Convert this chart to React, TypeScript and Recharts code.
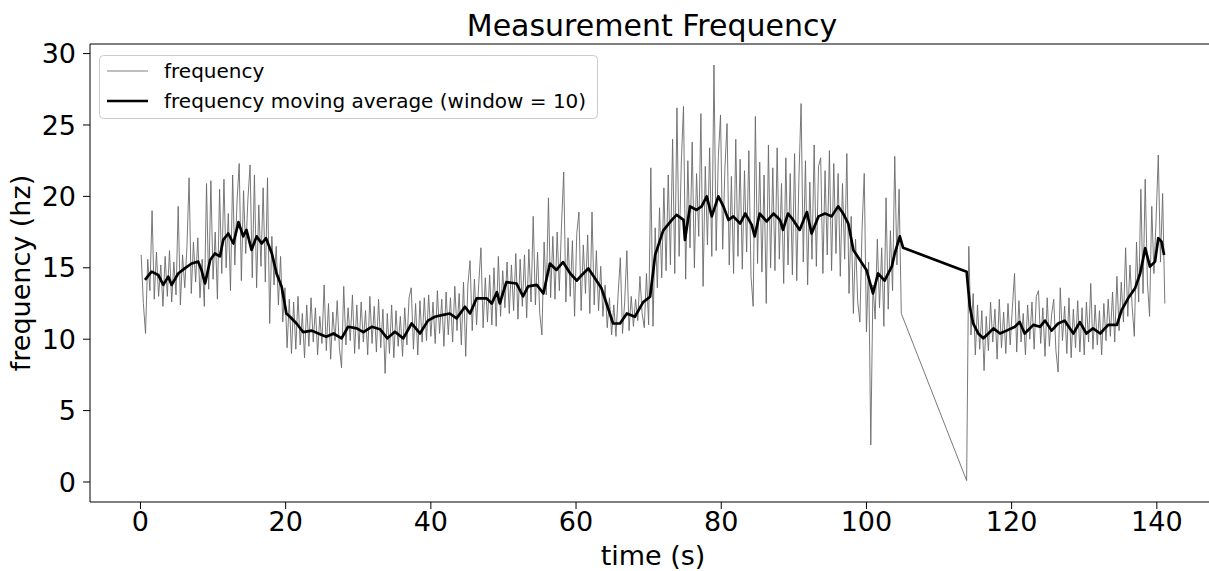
import { LineChart, Line, XAxis, YAxis, ReferenceLine } from 'recharts';

// raw samples: two recording segments with a fixed sample period
const sampleStep = 0.3;
const segAStart = 0.1;
const segBStart = 113.8;

const segAValues = [
  15.9, 12.5, 10.4, 15.6, 13.4, 19.0, 12.8, 16.1, 13.0, 15.2,
  12.3, 15.8, 13.0, 16.2, 12.6, 15.4, 13.1, 19.3, 12.4, 15.9,
  13.6, 16.4, 21.3, 13.2, 16.8, 14.0, 17.1, 12.9, 15.6, 12.3,
  20.9, 13.5, 21.1, 14.2, 17.5, 12.8, 20.5, 14.6, 21.2, 15.0,
  18.8, 13.4, 21.5, 15.2, 19.6, 22.3, 14.1, 20.4, 16.0, 19.8,
  22.2, 14.3, 21.5, 13.6, 19.4, 15.1, 20.6, 14.0, 21.3, 11.1,
  17.2, 13.8, 16.5, 12.4, 15.8, 11.2, 13.6, 9.4, 12.8, 9.0,
  12.6, 9.3, 13.0, 9.6, 11.8, 8.7, 12.4, 9.5, 12.9, 9.8,
  12.2, 8.9, 11.6, 9.7, 13.8, 9.2, 12.5, 8.6, 11.9, 9.9,
  12.7, 9.4, 8.0, 13.7, 9.6, 12.2, 9.9, 13.1, 9.0, 12.4,
  9.3, 12.6, 9.8, 12.0, 8.9, 13.0, 9.7, 12.3, 9.1, 12.8,
  9.4, 12.1, 7.6, 11.8, 9.0, 12.4, 8.7, 12.0, 9.5, 11.6,
  8.8, 12.2, 9.6, 12.9, 13.6, 9.3, 12.5, 8.9, 12.7, 9.8,
  12.9, 9.9, 13.1, 10.2, 12.6, 9.7, 13.4, 10.4, 12.8, 9.5,
  13.3, 10.3, 12.9, 9.8, 13.7, 10.6, 13.2, 9.6, 14.0, 8.8,
  13.8, 15.5, 10.6, 14.2, 11.0, 13.9, 16.4, 10.8, 14.3, 11.2,
  14.5, 11.0, 15.0, 10.9, 15.8, 11.6, 14.8, 12.2, 15.4, 11.8,
  15.2, 12.0, 16.0, 11.4, 15.6, 12.3, 15.9, 11.5, 16.3, 12.6,
  18.6, 12.4, 16.1, 11.8, 10.3, 16.8, 13.1, 19.9, 12.9, 17.2,
  12.8, 17.5, 13.4, 18.0, 21.7, 12.6, 17.1, 13.0, 16.9, 11.6,
  17.4, 18.9, 12.0, 16.6, 13.2, 17.3, 11.8, 18.9, 12.4, 16.2,
  12.0, 15.1, 11.6, 13.8, 10.8, 12.9, 10.3, 12.4, 10.2, 13.2,
  15.7, 10.4, 12.6, 16.2, 10.6, 13.0, 10.9, 12.8, 11.3, 14.4,
  11.8, 10.8, 14.6, 11.0, 22.0, 10.9, 17.8, 13.6, 19.2, 14.3,
  20.6, 14.8, 21.5, 15.2, 24.0, 14.6, 26.2, 15.8, 22.4, 26.3,
  14.2, 22.5, 16.4, 23.8, 15.0, 21.6, 17.2, 25.8, 13.7, 22.1,
  16.6, 23.4, 15.8, 29.2, 16.2, 22.8, 25.7, 16.3, 21.9, 25.1,
  15.2, 21.4, 14.6, 24.0, 15.8, 22.6, 14.9, 21.8, 16.1, 23.2,
  14.4, 12.3, 25.6, 15.3, 22.4, 14.7, 21.5, 12.5, 23.6, 15.0,
  22.0, 14.8, 23.4, 15.6, 20.9, 13.9, 22.7, 15.2, 21.6, 14.5,
  23.0, 14.1, 21.3, 26.5, 15.4, 22.5, 13.8, 21.0, 15.6, 23.6,
  15.1, 22.1, 22.7, 14.6, 21.8, 15.9, 23.2, 14.8, 22.3, 16.0,
  21.6, 14.4, 20.9, 15.6, 23.0, 13.2, 18.6, 11.8, 17.0, 12.6,
  11.2, 17.8, 21.6, 10.5, 15.4, 2.6, 13.8, 11.4, 17.0, 12.2,
  16.4, 10.9, 19.9, 12.1, 17.6, 13.4, 22.8, 15.2, 20.5, 11.8,
];

const segBValues = [
  0.1, 16.5, 10.3, 13.2, 8.9, 12.4, 9.3, 12.0, 7.8, 11.6,
  9.2, 12.6, 9.8, 12.1, 8.6, 12.8, 9.4, 11.9, 9.0, 12.5,
  9.6, 12.2, 14.6, 9.1, 12.7, 9.8, 11.8, 8.9, 12.4, 10.0,
  12.6, 9.3, 13.0, 13.4, 9.7, 12.2, 8.8, 12.9, 9.5, 11.7,
  12.8, 9.2, 7.7, 13.6, 9.9, 12.3, 9.0, 12.9, 8.7, 12.1,
  9.4, 12.7, 9.1, 12.2, 8.9, 12.6, 9.8, 13.9, 9.3, 12.4,
  9.6, 12.0, 8.9, 12.5, 9.9, 12.8, 10.2, 13.3, 9.8, 14.4,
  10.6, 14.0, 11.2, 16.4, 11.6, 15.2, 12.3, 10.2, 16.8, 12.6,
  20.5, 13.2, 21.2, 14.0, 11.6, 19.3, 14.6, 18.4, 22.9, 15.4,
  20.2, 12.5,
];

const maTimes = [
  0.62, 1.54, 2.45, 3.14, 3.83, 4.3, 5.2, 6.1, 7.05, 7.96,
  8.4, 8.9, 9.6, 10.26, 10.95, 11.4, 12.1, 12.8, 13.5, 14.15,
  14.6, 15.3, 16.0, 16.7, 17.3, 18.1, 18.75, 19.45, 20.1, 20.6,
  21.5, 22.4, 23.6, 24.5, 25.6, 26.6, 27.7, 28.6, 29.8, 30.7,
  31.85, 33.0, 34.0, 35.05, 36.2, 37.35, 38.5, 39.6, 40.55, 41.7,
  42.6, 43.55, 44.7, 45.4, 46.3, 47.7, 48.4, 49.1, 49.5, 50.4,
  51.8, 52.7, 53.4, 54.6, 55.5, 56.4, 57.3, 58.2, 59.2, 60.1,
  60.8, 61.7, 62.6, 63.5, 64.2, 65.1, 66.05, 67.0, 68.1, 69.25,
  70.2, 70.9, 72.0, 73.2, 73.85, 74.8, 75.0, 75.7, 76.6, 77.3,
  78.0, 78.7, 79.6, 80.3, 81.0, 81.65, 82.6, 83.3, 84.2, 84.6,
  85.3, 86.25, 87.2, 88.1, 88.5, 89.2, 89.9, 90.8, 91.8, 92.45,
  93.4, 94.3, 95.2, 96.1, 96.8, 97.5, 98.2, 99.1, 100.0, 100.9,
  101.6, 102.5, 103.5, 103.9, 104.6, 105.05,
  113.8, 114.25, 114.7, 115.4, 116.1, 116.8, 117.5, 118.4, 119.3, 120.45,
  121.1, 121.8, 123.0, 123.9, 124.6, 125.5, 126.4, 127.3, 128.5, 129.4,
  130.3, 131.2, 132.2, 133.3, 134.5, 135.15, 136.05, 137.0, 137.7, 138.4,
  139.05, 139.75, 140.2, 140.65, 141.0,
];

const maValues = [
  14.15, 14.73, 14.5, 13.8, 14.38, 13.8, 14.6, 14.96, 15.3, 15.43,
  14.85, 13.9, 15.55, 16.0, 15.8, 16.95, 17.4, 16.7, 18.2, 17.2,
  17.65, 16.25, 17.2, 16.7, 17.07, 16.0, 14.6, 13.67, 11.8, 11.57,
  11.1, 10.5, 10.6, 10.4, 10.17, 10.4, 10.06, 10.87, 10.76, 10.5,
  10.87, 10.7, 10.06, 10.52, 10.06, 11.1, 10.4, 11.3, 11.57, 11.7,
  11.8, 11.46, 12.27, 11.8, 12.86, 12.86, 12.5, 13.3, 12.5, 14.0,
  13.9, 13.0, 13.7, 13.8, 13.2, 15.3, 14.85, 15.4, 14.6, 14.1,
  14.5, 14.95, 14.26, 13.56, 12.5, 11.1, 11.1, 11.8, 11.57, 12.6,
  12.97, 15.9, 17.6, 18.35, 18.7, 18.35, 16.95, 19.3, 19.05, 19.3,
  20.0, 18.6, 20.0, 19.3, 18.35, 18.6, 18.1, 18.8, 18.0, 17.2,
  18.8, 18.25, 18.8, 18.35, 17.65, 18.8, 18.35, 17.65, 18.9, 17.4,
  18.6, 18.8, 18.6, 19.3, 18.8, 18.1, 16.25, 15.55, 14.85, 13.2,
  14.6, 14.1, 15.1, 16.0, 17.2, 16.4,
  14.73, 12.27, 11.1, 10.4, 10.06, 10.4, 10.76, 10.4, 10.6, 10.87,
  11.2, 10.4, 11.0, 10.87, 11.3, 10.6, 11.1, 11.3, 10.4, 11.2,
  10.4, 10.76, 10.4, 11.0, 11.0, 12.04, 12.86, 13.56, 14.6, 16.37,
  15.08, 15.43, 17.07, 16.83, 15.9,
];

const xTicks = [0, 20, 40, 60, 80, 100, 120, 140];
const yTicks = [0, 5, 10, 15, 20, 25, 30];

const rawData = [
  ...segAValues.map((v, i) => ({ time: +(segAStart + i * sampleStep).toFixed(2), frequency: v })),
  ...segBValues.map((v, i) => ({ time: +(segBStart + i * sampleStep).toFixed(2), frequency: v })),
];
const maData = maTimes.map((t, i) => ({ time: t, avg: maValues[i] }));

const FONT = '"DejaVu Sans", sans-serif';
const Y_MIN = -1.4;
const Y_MAX = 30.67;

export default function App() {
  return (
    <div style={{ position: 'absolute', left: 0, top: 0, width: 1209, height: 571, overflow: 'hidden', background: '#fff' }}>
      <LineChart width={1220} height={571} margin={{ top: 44, right: 4, bottom: 0, left: 0 }}>
        <XAxis
          type="number"
          dataKey="time"
          domain={[-6.95, 148.15]}
          allowDataOverflow
          ticks={xTicks}
          height={69}
          tickSize={7}
          tickMargin={3}
          stroke="#000"
          tick={{ fill: '#000', fontSize: 27, fontFamily: FONT }}
          label={{ value: 'time (s)', position: 'insideBottom', offset: 6, fill: '#000', fontSize: 27, fontFamily: FONT }}
        />
        <YAxis
          type="number"
          domain={[Y_MIN, Y_MAX]}
          allowDataOverflow
          ticks={yTicks}
          width={90}
          tickSize={7}
          tickMargin={7}
          stroke="#000"
          tick={{ fill: '#000', fontSize: 27, fontFamily: FONT }}
          label={{ value: 'frequency (hz)', angle: -90, position: 'insideLeft', offset: 20, fill: '#000', fontSize: 27, fontFamily: FONT, style: { textAnchor: 'middle' } }}
        />
        <ReferenceLine y={Y_MAX} stroke="#000" strokeWidth={1} />
        <Line
          data={rawData}
          dataKey="frequency"
          type="linear"
          stroke="#6a6a6a"
          strokeWidth={0.9}
          dot={false}
          activeDot={false}
          isAnimationActive={false}
        />
        <Line
          data={maData}
          dataKey="avg"
          type="linear"
          stroke="#000"
          strokeWidth={2.7}
          strokeLinejoin="round"
          dot={false}
          activeDot={false}
          isAnimationActive={false}
        />
      </LineChart>
      <svg width={1209} height={571} style={{ position: 'absolute', left: 0, top: 0, pointerEvents: 'none' }}>
        <text x={652} y={36} textAnchor="middle" fontSize={30} fontFamily={FONT} fill="#000">
          Measurement Frequency
        </text>
        <rect x={99.5} y={55.5} width={498} height={63} rx={4} fill="#fff" fillOpacity={0.8} stroke="#cccccc" />
        <line x1={107} x2={148} y1={71} y2={71} stroke="#808080" strokeWidth={1} />
        <text x={164} y={78} fontSize={20} fontFamily={FONT} fill="#000">frequency</text>
        <line x1={107} x2={148} y1={101} y2={101} stroke="#000" strokeWidth={2.5} />
        <text x={164} y={108} fontSize={20} fontFamily={FONT} fill="#000">frequency moving average (window = 10)</text>
      </svg>
    </div>
  );
}
